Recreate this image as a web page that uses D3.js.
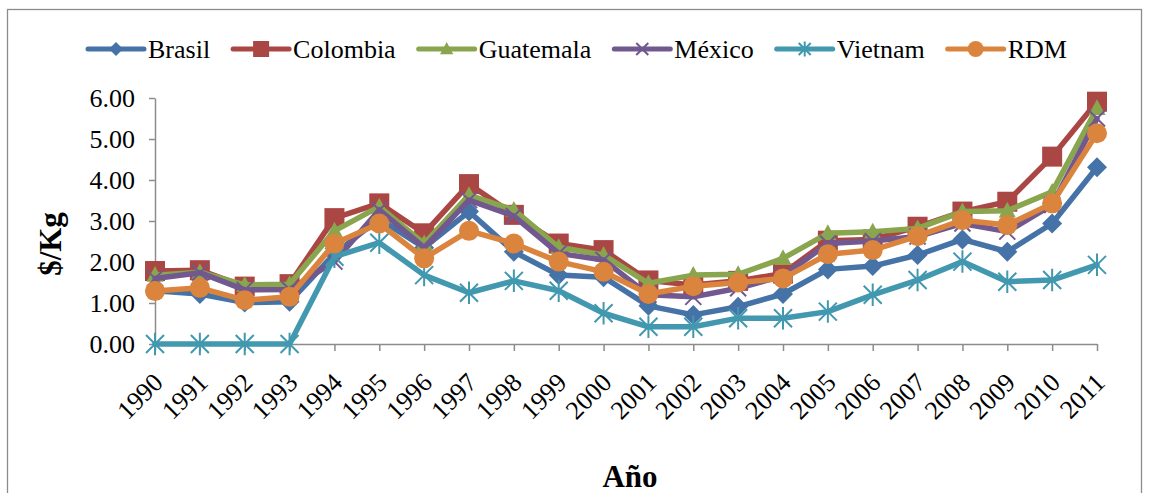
<!DOCTYPE html>
<html>
<head>
<meta charset="utf-8">
<script src="https://cdn.jsdelivr.net/npm/d3@7"></script>
<style>
html,body{margin:0;padding:0;background:#fff;}
svg{display:block;}
text{font-family:"Liberation Serif","Times New Roman",serif;fill:#000;}
</style>
</head>
<body>
<svg id="chart" width="1149" height="493"></svg>
<script>
const years = ["1990","1991","1992","1993","1994","1995","1996","1997","1998","1999","2000","2001","2002","2003","2004","2005","2006","2007","2008","2009","2010","2011"];
const brasil    = [1.30,1.22,1.01,1.03,2.20,3.05,2.35,3.23,2.25,1.68,1.63,0.93,0.71,0.91,1.22,1.82,1.90,2.17,2.55,2.25,2.94,4.31];
const colombia  = [1.78,1.80,1.40,1.46,3.07,3.43,2.70,3.90,3.15,2.45,2.29,1.55,1.44,1.54,1.72,2.52,2.55,2.86,3.23,3.47,4.57,5.91];
const guatemala = [1.68,1.75,1.44,1.46,2.76,3.35,2.45,3.63,3.27,2.36,2.17,1.48,1.68,1.70,2.09,2.70,2.74,2.82,3.23,3.25,3.71,5.75];
const mexico    = [1.60,1.74,1.32,1.33,2.01,3.27,2.35,3.51,3.12,2.21,2.05,1.20,1.15,1.36,1.66,2.45,2.51,2.62,2.94,2.74,3.39,5.50];
const vietnam   = [0,0,0,0,2.13,2.47,1.68,1.25,1.54,1.30,0.75,0.42,0.42,0.63,0.63,0.79,1.20,1.56,2.01,1.52,1.56,1.93];
const rdm       = [1.29,1.37,1.07,1.15,2.45,2.94,2.09,2.76,2.45,2.01,1.76,1.22,1.41,1.50,1.60,2.19,2.29,2.63,3.02,2.90,3.43,5.14];
const seriesNames = ["Brasil","Colombia","Guatemala","México","Vietnam","RDM"];
const yTicks = [0,1,2,3,4,5,6];
const yTitle = "$/Kg";
const xTitle = "Año";

const seriesData = [brasil, colombia, guatemala, mexico, vietnam, rdm];
const colors = ["#4572A7","#AA4643","#89A54E","#71588F","#4198AF","#DB843D"];
const shapes = ["diamond","square","triangle","x","star","circle"];
const FONT = "'Liberation Serif','Times New Roman',serif";

const svg = d3.select("#chart");

// chart frame
svg.append("rect").attr("x",7.5).attr("y",9.5).attr("width",1134).attr("height",500)
  .attr("fill","none").attr("stroke","#8c8c8c").attr("stroke-width",1.3);

const x = d3.scalePoint().domain(years).range([155,1097]);
const y = d3.scaleLinear().domain([0,6]).range([344,98]);

// y axis
const yAxis = svg.append("g").attr("transform","translate(155,0)")
  .call(d3.axisLeft(y).tickValues(yTicks).tickFormat(d3.format(".2f")).tickSize(6).tickSizeOuter(0))
  .attr("font-family", FONT);
yAxis.select(".domain").attr("stroke","#8c8c8c").attr("stroke-width",1.5);
yAxis.selectAll(".tick line").attr("stroke","#8c8c8c").attr("stroke-width",1.5);
yAxis.selectAll(".tick text").attr("font-size",26).attr("x",-20).attr("dy","0.33em")
  .style("font-family",FONT).attr("fill","#000");

// x axis
const xAxis = svg.append("g").attr("transform","translate(0,344)")
  .call(d3.axisBottom(x).tickSize(7).tickSizeOuter(0))
  .attr("font-family", FONT);
xAxis.select(".domain").attr("stroke","#8c8c8c").attr("stroke-width",1.5);
xAxis.selectAll(".tick line").attr("stroke","#8c8c8c").attr("stroke-width",1.5);
xAxis.selectAll(".tick text").attr("font-size",26)
  .style("font-family",FONT).attr("fill","#000")
  .attr("text-anchor","end").attr("y",0).attr("dy",0)
  .attr("transform","translate(9,40) rotate(-45)");

// axis titles
svg.append("text").attr("transform","translate(61,244) rotate(-90)")
  .attr("text-anchor","middle").attr("font-size",31).attr("font-weight","bold").text(yTitle);
svg.append("text").attr("x",630).attr("y",487)
  .attr("text-anchor","middle").attr("font-size",31).attr("font-weight","bold").text(xTitle);

function drawMarker(g, shape, color, cx, cy, s) {
  if (shape === "diamond") {
    g.append("path").attr("d", `M${cx},${cy-s}L${cx+s},${cy}L${cx},${cy+s}L${cx-s},${cy}Z`).attr("fill",color);
  } else if (shape === "square") {
    g.append("rect").attr("x",cx-s).attr("y",cy-s).attr("width",2*s).attr("height",2*s).attr("fill",color);
  } else if (shape === "triangle") {
    g.append("path").attr("d", `M${cx},${cy-s}L${cx+s*0.95},${cy+s*0.75}L${cx-s*0.95},${cy+s*0.75}Z`).attr("fill",color);
  } else if (shape === "x") {
    g.append("path").attr("d", `M${cx-s},${cy-s}L${cx+s},${cy+s}M${cx-s},${cy+s}L${cx+s},${cy-s}`)
      .attr("stroke",color).attr("stroke-width",2).attr("fill","none");
  } else if (shape === "star") {
    g.append("path").attr("d", `M${cx-s},${cy-s}L${cx+s},${cy+s}M${cx-s},${cy+s}L${cx+s},${cy-s}M${cx},${cy-s*1.25}L${cx},${cy+s*1.25}`)
      .attr("stroke",color).attr("stroke-width",2).attr("fill","none");
  } else if (shape === "circle") {
    g.append("circle").attr("cx",cx).attr("cy",cy).attr("r",s).attr("fill",color);
  }
}

const markerSize = [10,10,9,8,9,10];
const line = d3.line().x((d,i)=>x(years[i])).y(d=>y(d));

seriesData.forEach((vals, k) => {
  const g = svg.append("g");
  g.append("path").datum(vals).attr("d", line).attr("fill","none")
    .attr("stroke", colors[k]).attr("stroke-width",5.5).attr("stroke-linejoin","round").attr("stroke-linecap","round");
  vals.forEach((v,i) => drawMarker(g, shapes[k], colors[k], x(years[i]), y(v), markerSize[k]));
});

// legend
const legY = 49;
let lx = 88;
const legMarker = [7,8,7,6,6,8];
seriesNames.forEach((name,k) => {
  const g = svg.append("g");
  g.append("line").attr("x1",lx).attr("x2",lx+56).attr("y1",legY).attr("y2",legY)
    .attr("stroke",colors[k]).attr("stroke-width",5).attr("stroke-linecap","round");
  drawMarker(g, shapes[k], colors[k], lx+28, legY, legMarker[k]);
  const t = g.append("text").attr("x",lx+60).attr("y",legY).attr("dy","0.33em")
    .attr("font-size",26).text(name);
  lx = lx + 60 + t.node().getComputedTextLength() + 23;
});
</script>
</body>
</html>
